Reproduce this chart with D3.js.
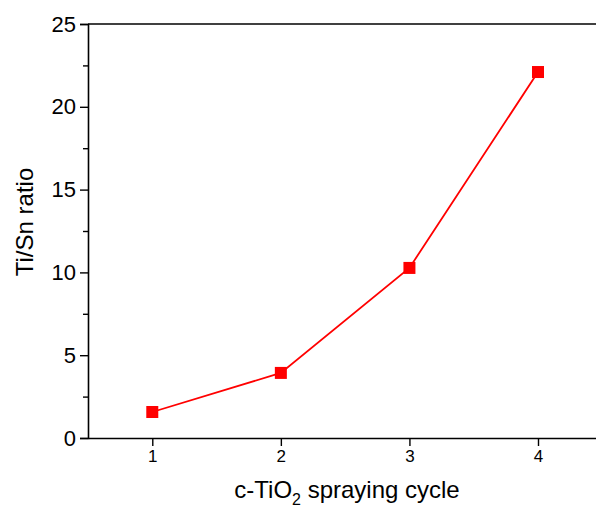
<!DOCTYPE html>
<html>
<head>
<meta charset="utf-8">
<script src="https://cdn.jsdelivr.net/npm/d3@7"></script>
<style>
	body { margin: 0; background: #fff; }
	text { font-family: "Liberation Sans", Arial, sans-serif; fill: #000; }
</style>
</head>
<body>
<svg class="chart"></svg>
<script>
// data
var cycles = [1, 2, 3, 4];
var ratios = [1.57, 3.93, 10.27, 22.1];
var yTicks = [0, 5, 10, 15, 20, 25];
var yMinorTicks = [2.5, 7.5, 12.5, 17.5, 22.5];

function drawChart() {
	"use strict";
	var width = 596, height = 511;
	var mLeft = 88, mTop = 24, mBottom = 438, mRight = 610;

	var svg = d3.select(".chart")
		.attr("width", width)
		.attr("height", height);

	var x = d3.scaleLinear().domain([0.5, 4.56]).range([mLeft, mRight]);
	var y = d3.scaleLinear().domain([0, 25]).range([mBottom, mTop]);

	// top frame line
	svg.append("line")
		.attr("x1", mLeft).attr("x2", mRight)
		.attr("y1", mTop).attr("y2", mTop)
		.attr("stroke", "#000").attr("stroke-width", 1.6);

	// y axis
	var yAxis = svg.append("g")
		.attr("transform", "translate(" + mLeft + ",0)")
		.call(d3.axisLeft(y).tickValues(yTicks).tickSize(8).tickPadding(4).tickFormat(d3.format("d")));
	yAxis.selectAll("text").style("font-size", "22px");
	yAxis.selectAll("path").attr("stroke-width", 1.6);
	yAxis.selectAll("line").attr("stroke-width", 1.4);

	var yMinor = svg.append("g")
		.attr("transform", "translate(" + mLeft + ",0)")
		.call(d3.axisLeft(y).tickValues(yMinorTicks).tickSize(5).tickFormat(""));
	yMinor.select("path").remove();
	yMinor.selectAll("line").attr("stroke-width", 1.4);

	// x axis
	var xAxis = svg.append("g")
		.attr("transform", "translate(0," + mBottom + ")")
		.call(d3.axisBottom(x).tickValues(cycles).tickSize(8).tickPadding(4).tickSizeOuter(0).tickFormat(d3.format("d")));
	xAxis.selectAll("text").style("font-size", "17px");
	xAxis.selectAll("path").attr("stroke-width", 1.6);
	xAxis.selectAll("line").attr("stroke-width", 1.4);

	// axis titles
	svg.append("text")
		.attr("transform", "translate(33,222) rotate(-90)")
		.attr("text-anchor", "middle")
		.style("font-size", "24px")
		.text("Ti/Sn ratio");

	var xt = svg.append("text")
		.attr("x", 347).attr("y", 498)
		.attr("text-anchor", "middle")
		.style("font-size", "24px");
	xt.append("tspan").text("c-TiO");
	xt.append("tspan").attr("dy", 7).style("font-size", "16px").text("2");
	xt.append("tspan").attr("dy", -7).text(" spraying cycle");

	// line + markers
	var line = d3.line()
		.x(function(d, i) { return x(cycles[i]); })
		.y(function(d) { return y(d); });

	svg.append("path")
		.datum(ratios)
		.attr("d", line)
		.attr("fill", "none")
		.attr("stroke", "#ff0000")
		.attr("stroke-width", 1.8);

	svg.selectAll("rect.marker")
		.data(ratios)
		.enter().append("rect")
		.attr("class", "marker")
		.attr("x", function(d, i) { return x(cycles[i]) - 6; })
		.attr("y", function(d) { return y(d) - 6; })
		.attr("width", 12)
		.attr("height", 12)
		.attr("fill", "#ff0000");
}
drawChart();
</script>
</body>
</html>
